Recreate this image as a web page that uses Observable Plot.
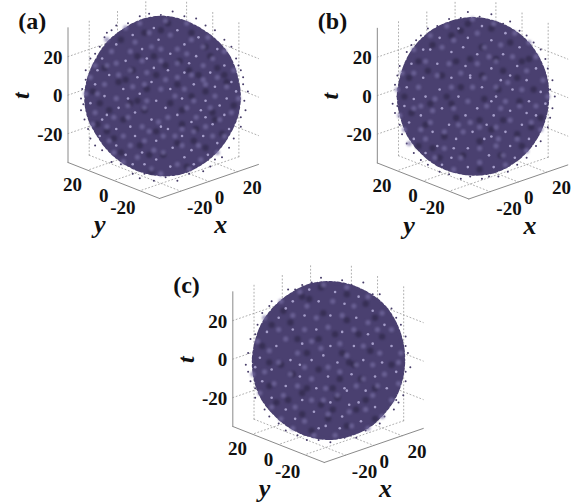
<!DOCTYPE html>
<html><head><meta charset="utf-8">
<script src="https://cdn.jsdelivr.net/npm/d3@7"></script>
<script src="https://cdn.jsdelivr.net/npm/@observablehq/plot@0.6"></script>
<style>html,body{margin:0;padding:0;background:#fff}svg{display:block}</style>
</head><body><div id="chart"></div>
<script>
// Chart values, read by eye. The cloud holds far too many dots to read one by one,
// so each ball is drawn as its read outline plus a hand-estimated set of visible specks.
const panels = ["(a)", "(b)", "(c)"];
const axisTicks = [-20, 0, 20];
const axisLimit = 35;
const angleStep = 15;
const radiiA = [32.5,32.3,32.6,32.4,32.3,32.8,33.3,33,32.3,32.2,31.8,32.1,32.5,32.5,32,32.2,32.6,33,33.4,33.5,33,32.6,32.3,32.5];
const radiiB = [31.6,31.8,32,32.4,32.6,32.8,33,32.8,32.6,32.2,31.8,31.4,31.6,31.4,31.8,32,32.4,32.6,32.8,33,32.6,32.2,31.8,31.6];
const radiiC = [31.4,31.6,32,32.6,32.6,32.8,33,33,32.4,32.2,32.2,32,32.2,32.4,32.6,32.4,32.6,32.8,33,32.6,32.4,31.8,31.6,31.4];
const centres = [[-0.3,0.1],[0.2,0],[0.6,-0.2]];

const lightA = [[-4,29],[6,28],[-13,26],[15,25],[-20,22],[-2,24],[9,22],[23,20],[-9,20],[-26,16],[3,18],[14,17],[-16,15],[26,13],[-4,12],[2,11],[20,10],[-23,9],[9,10],[-11,8],[29,6],[-29,5],[-5,6],[13,5],[22,4],[-17,3],[3,3],[-25,0],[-10,1],[8,-1],[27,-1],[18,-2],[-31,-3],[-3,-2],[1,-5],[-19,-5],[16,-6],[-12,-7],[26,-8],[6,-8],[-26,-10],[-5,-10],[12,-11],[21,-12],[-20,-14],[-14,-13],[2,-14],[28,-14],[-27,-17],[-12,-17],[8,-17],[17,-17],[-3,-19],[23,-20],[-20,-21],[4,-22],[12,-23],[-9,-24],[-16,-25],[19,-25],[9,-26],[-3,-27],[-8,-29],[3,-30],[13,-29],[-13,-29],[-24,-8],[31,2],[-7,16],[18,-9],[-15,-1],[11,14],[-28,11],[24,-4],[-1,-13]];
const midA = [[-10,31],[1,32],[10,31],[-16,29],[-6,27],[3,26],[12,24],[19,25],[-24,24],[-12,23],[-5,21],[6,20],[17,21],[26,19],[-22,19],[-14,19],[-1,20],[10,18],[21,16],[-29,13],[-20,14],[-9,15],[-1,15],[6,14],[17,13],[30,11],[-24,13],[-14,11],[-7,10],[6,8],[12,9],[23,8],[-31,8],[-19,9],[-8,5],[1,7],[17,7],[27,4],[-25,5],[-13,4],[-1,3],[9,3],[18,5],[32,-1],[-28,1],[-20,-1],[-7,-2],[5,0],[13,-2],[22,0],[-33,1],[-15,-4],[-8,-5],[10,-5],[20,-5],[29,-7],[-29,-7],[-21,-9],[-15,-9],[2,-9],[14,-9],[24,-10],[-30,-12],[-9,-13],[-2,-11],[8,-14],[18,-13],[-24,-13],[-17,-17],[-6,-15],[5,-17],[13,-15],[26,-17],[-23,-19],[-8,-19],[0,-17],[21,-17],[-14,-21],[-4,-23],[8,-21],[15,-21],[-21,-24],[0,-24],[23,-24],[-11,-26],[6,-29],[16,-27],[-17,-28],[-5,-31],[11,-31],[-1,-33]];
const darkA = [[-8,27],[2,31],[12,27],[-18,24],[-4,17],[7,15],[20,17],[-25,12],[-13,11],[15,9],[26,9],[-7,3],[6,5],[-19,6],[-30,2],[18,2],[30,-4],[-14,-3],[3,-3],[12,0],[-23,-6],[-8,-6],[21,-7],[8,-12],[-17,-10],[-3,-15],[25,-16],[-24,-15],[14,-14],[-10,-21],[6,-20],[18,-22],[-18,-24],[0,-25],[10,-30],[-5,-32],[-28,-12],[27,6],[-1,28],[18,21],[-11,17],[1,13],[11,11],[-16,7],[-3,9],[23,12],[-27,-3],[-11,-2],[8,-6],[-21,-18],[13,-19],[-6,-25],[22,-10]];
const fringeA = [[-22,28],[-27,21],[-20,30],[-6,35],[4,36],[14,33],[22,28],[29,21],[31,16],[34,8],[36,2],[35,-6],[33,-13],[30,-18],[25,-26],[17,-32],[6,-36],[-4,-36],[-13,-33],[-22,-28],[-29,-21],[-32,-14],[-35,-6],[-34.5,3],[-33,11],[-31,16],[-25,25],[-35,-1],[32,13],[20,-30],[-10,-35],[-15,31],[-1,34.5],[9,34],[18,30],[26,24],[33,11],[34.5,-2],[33,-9],[28,-22],[22,-27],[11,-33],[1,-34.5],[-8,-33],[-18,-29],[-26,-23],[-31,-18],[-33.5,-10],[-33,7],[-29,18],[-24,27],[-10,34],[-34,-3.5],[34,5]];

const lightB = [[-6,29],[4,30],[14,27],[-14,25],[-2,25],[8,24],[20,21],[-21,20],[-9,19],[2,18],[13,18],[-26,14],[-15,14],[-3,13],[8,12],[19,13],[27,12],[-21,8],[-9,8],[-1,8],[-1,9],[12,7],[23,7],[-28,4],[-14,3],[4,4],[17,3],[29,2],[-20,0],[-6,0],[10,0],[8,-2],[24,-2],[-29,-4],[-13,-5],[2,-5],[16,-6],[-22,-8],[-3,-8],[9,-8],[27,-8],[-27,-11],[-10,-12],[6,-12],[21,-12],[-17,-15],[0,-15],[14,-15],[-25,-18],[-7,-18],[8,-17],[5,-18],[24,-18],[-15,-21],[16,-21],[-2,-22],[-20,-24],[-9,-26],[7,-25],[18,-26],[-2,-30],[-13,-29],[9,-30],[-18,20],[23,-7],[31,-3],[-4,21],[16,9],[-25,-1],[-8,-22]];
const midB = [[-11,30],[0,33],[9,31],[18,27],[-18,26],[-8,24],[2,27],[12,22],[24,23],[-25,20],[-13,21],[5,21],[17,17],[27,17],[-30,10],[-20,15],[-10,14],[2,14],[10,15],[23,11],[-25,10],[-15,9],[-5,10],[5,8],[15,6],[30,7],[-32,3],[-23,4],[-9,4],[0,4],[10,4],[21,3],[-16,-1],[-2,-2],[6,-4],[14,-2],[20,-4],[32,0],[-25,-5],[-17,-6],[-8,-5],[12,-5],[27,-4],[-31,-8],[-18,-11],[-6,-12],[-1,-11],[16,-10],[25,-11],[-29,-14],[-22,-14],[-12,-15],[3,-13],[10,-13],[29,-14],[-20,-18],[-4,-15],[11,-18],[19,-18],[-27,-20],[-12,-22],[3,-22],[10,-21],[23,-23],[-16,-26],[-5,-26],[13,-25],[-8,-31],[3,-28],[14,-29],[-22,-4],[7,17]];
const darkB = [[-2,31],[8,29],[-9,26],[16,23],[-17,22],[4,21],[-23,15],[-7,15],[10,16],[24,16],[-13,9],[4,9],[19,8],[-27,8],[-5,4],[11,3],[26,3],[-18,-3],[-9,-3],[5,-1],[20,-2],[-26,-7],[-7,-9],[13,-10],[-20,-12],[3,-10],[25,-13],[-12,-17],[3,-19],[19,-16],[-23,-21],[-4,-25],[12,-25],[-14,-26],[3,-31],[29,-9],[-5,28],[21,15],[-19,11],[-1,16],[13,11],[-11,0],[-29,0],[8,-14],[-17,-22],[21,-21]];
const fringeB = [[-19,29],[-24,24],[-10,33],[-2,36],[8,35],[16,32],[23,26],[29,20],[32,12],[34,7],[35,0],[34,-5],[32,-13],[29,-19],[23,-26],[15,-32],[4,-35],[-5,-35],[-14,-32],[-22,-27],[-28,-20],[-31,-12],[-33,-7],[-32,0],[-33,5],[-31,13],[-28,19],[-34,-3],[26,23],[11,-34],[-15,30],[-5,33.5],[3,34],[13,31],[20,28],[31,16],[33,3],[33,-9],[27,-21],[19,-29],[7,-34],[-1,-34],[-10,-33],[-19,-29],[-25,-24],[-30,-16],[-32,-4],[-32,9],[-26,22],[-22,26]];

const lightC = [[-8,30],[3,29],[13,27],[-15,25],[-4,25],[7,24],[19,21],[-21,18],[-10,19],[1,19],[12,18],[24,15],[-26,12],[-15,13],[-5,13],[6,12],[17,11],[-22,6],[-11,7],[1,6],[11,6],[27,6],[-29,1],[-16,0],[-7,0],[4,-1],[15,0],[23,-1],[-24,-4],[-12,-7],[0,-7],[10,-6],[20,-7],[29,-5],[-28,-9],[-18,-11],[-5,-12],[7,-12],[8,-13],[16,-13],[25,-12],[-24,-16],[-11,-17],[1,-18],[13,-18],[-18,-21],[-6,-22],[20,-20],[6,-24],[-14,-25],[14,-26],[-4,-29],[-1,-28],[5,-29],[-12,-2],[19,7],[-2,2],[-31,-3],[-18,22],[9,-19]];
const midC = [[-12,29],[-2,32],[8,31],[17,27],[-20,25],[-9,23],[2,25],[11,23],[23,20],[-27,18],[-15,19],[-5,18],[6,19],[17,16],[27,13],[-21,13],[-10,13],[0,14],[11,13],[21,13],[-30,8],[-18,9],[-7,8],[5,7],[15,6],[31,3],[-25,4],[-13,3],[-3,5],[8,2],[22,3],[-32,-6],[-21,-1],[-10,-3],[0,-3],[12,-2],[19,-2],[30,-1],[-27,-5],[-16,-6],[-7,-8],[5,-5],[15,-8],[24,-6],[-23,-10],[-13,-11],[-1,-12],[12,-11],[21,-11],[30,-10],[-29,-14],[-19,-15],[-7,-17],[4,-15],[19,-15],[27,-17],[-24,-20],[-14,-20],[-2,-17],[9,-22],[16,-21],[-20,-25],[-10,-26],[0,-23],[23,-24],[-15,-29],[-6,-32],[3,-32],[10,-28],[17,-29]];
const darkC = [[-3,31],[8,28],[-11,27],[16,24],[-19,21],[-2,20],[8,17],[-24,15],[-13,9],[-4,9],[13,11],[23,10],[-28,6],[-9,3],[6,3],[18,4],[-20,-2],[-4,-4],[11,-2],[27,-2],[-15,-6],[5,-8],[14,-8],[-25,-11],[-9,-12],[2,-12],[20,-12],[4,-16],[-17,-17],[-3,-19],[12,-21],[-11,-23],[0,-25],[20,-25],[-7,-30],[8,-28],[-8,26],[20,18],[-16,16],[3,11],[-25,-1],[9,-1],[-11,-14],[16,-17],[-22,-18],[2,-21]];
const fringeC = [[-17,30],[-24,25],[-11,32],[-3,35],[6,34],[15,33],[22,28],[27,22],[31,15],[33,10],[34,3],[35,-3],[33,-9],[32,-15],[28,-21],[22,-27],[12,-33],[1,-35],[-9,-34],[-18,-30],[-25,-24],[-31,-16],[-33,-9],[-35,-2],[-34,3],[-33,9],[-30,15],[-28,20],[-34,-5],[30,-18],[-14,30],[-7,33],[2,33],[10,32],[19,28],[29,18],[33,6],[33,-5],[29,-17],[24,-24],[7,-33],[-4,-34],[-13,-32],[-21,-27],[-27,-21],[-31,-12],[-32,1],[-31,11],[-25,23],[16,-30]];

const radii = [radiiA, radiiB, radiiC];
const lights = [lightA, lightB, lightC];
const mids = [midA, midB, midC];
const darks = [darkA, darkB, darkC];
const fringes = [fringeA, fringeB, fringeC];

// Oblique projection of the three axes, per chart unit, plus each panel's origin.
const ux = [1.414, -0.486], uy = [-1.307, -0.514], ut = -1.925, viewScale = 2.35;
const origins = [[162.75, 95.6], [472.05, 96.1], [327.55, 359.6]];
const letterAt = [[31.7, 21], [332, 21], [186, 285]];
const project = (p, x, y, t) => [
  origins[p][0] + x * ux[0] + y * uy[0],
  origins[p][1] + x * ux[1] + y * uy[1] + t * ut
];
const L = axisLimit;

const segs = (grid) => {
  const out = [];
  let id = 0;
  const add = (p, a, b) => {
    out.push({id, at: project(p, ...a)}, {id, at: project(p, ...b)});
    id++;
  };
  panels.forEach((_, p) => {
    if (grid) {
      for (const v of axisTicks) {
        add(p, [v, L, -L], [v, L, L]);
        add(p, [L, v, -L], [L, v, L]);
        add(p, [v, L, -L], [v, -L, -L]);
        add(p, [L, v, -L], [-L, v, -L]);
        add(p, [-L, L, v], [L, L, v]);
        add(p, [L, L, v], [L, -L, v]);
      }
    } else {
      add(p, [-L, L, -L], [-L, L, L]);
      add(p, [-L, L, -L], [-L, -L, -L]);
      add(p, [-L, -L, -L], [L, -L, -L]);
    }
  });
  return out;
};

const outline = panels.flatMap((_, p) => radii[p].map((r, i) => {
  const a = i * angleStep * Math.PI / 180;
  return {p, x: origins[p][0] + (centres[p][0] + r * Math.cos(a)) * viewScale,
             y: origins[p][1] - (centres[p][1] + r * Math.sin(a)) * viewScale};
}));
const toScreen = (sets) => sets.flatMap((s, p) => s.map(([u, v]) => ({
  x: origins[p][0] + u * viewScale, y: origins[p][1] - v * viewScale
})));

const serif = "Liberation Serif";
const yOffsets = [[-17, 17], [-10, 15], [-15, 15]];
const xOffsets = [[19, 17], [10.5, 16], [15, 16]];
const tLabels = panels.flatMap((_, p) => axisTicks.map((v) => {
  const [x, y] = project(p, -L, L, v);
  return {x: x - 5.5, y: y + 1, text: String(v)};
}));
const floorLabels = panels.flatMap((_, p) => [
  ...axisTicks.map((v, i) => {
    const [x, y] = project(p, -L, v, -L);
    return {x: x + yOffsets[i][0], y: y + yOffsets[i][1], text: String(v)};
  }),
  ...axisTicks.map((v, i) => {
    const [x, y] = project(p, v, -L, -L);
    return {x: x + xOffsets[i][0], y: y + xOffsets[i][1], text: String(v)};
  })
]);
const titles = panels.flatMap((_, p) => {
  const o = origins[p];
  return [
    {x: o[0] - 63.5, y: o[1] + 129, text: "y"},
    {x: o[0] + 57.5, y: o[1] + 129, text: "x"}
  ];
});
const tTitles = panels.map((_, p) => ({x: origins[p][0] - 142, y: origins[p][1] - 0.5, text: "t"}));
const letters = panels.map((text, p) => ({x: letterAt[p][0], y: letterAt[p][1], text}));

const grid = segs(true), axes = segs(false);
const tickStyle = {text: "text", fontFamily: serif, fontWeight: "bold", fontSize: 19, fill: "#111"};
const chart = Plot.plot({
  width: 581, height: 502, margin: 0,
  x: {domain: [0, 581], range: [0, 581], axis: null},
  y: {domain: [0, 502], range: [0, 502], axis: null},
  marks: [
    Plot.line(grid, {x: d => d.at[0], y: d => d.at[1], z: "id", stroke: "#9a9a9a", strokeWidth: 0.8, strokeDasharray: "1 2.5"}),
    Plot.line(axes, {x: d => d.at[0], y: d => d.at[1], z: "id", stroke: "#8a8a8a", strokeWidth: 1}),
    Plot.dot(toScreen(fringes), {x: "x", y: "y", r: 1, fill: "#473d69", stroke: "none", imageFilter: "blur(0.3px)"}),
    Plot.line(outline, {x: "x", y: "y", z: "p", fill: "#4a4070", stroke: "#4a4070", strokeWidth: 4, strokeDasharray: "2 2.5 3.5 1.5 1.5 3", curve: "cardinal-closed"}),
    Plot.dot(toScreen(darks), {x: "x", y: "y", r: 3.2, fill: "#2c2544", fillOpacity: 0.6, stroke: "none", imageFilter: "blur(1px)"}),
    Plot.dot(toScreen(mids), {x: "x", y: "y", r: 2.6, fill: "#7a70a6", fillOpacity: 0.65, stroke: "none", imageFilter: "blur(0.8px)"}),
    Plot.dot(toScreen(lights), {x: "x", y: "y", r: 1.3, fill: "#aaa2cd", fillOpacity: 0.95, stroke: "none", imageFilter: "blur(0.4px)"}),
    Plot.text(tLabels, {...tickStyle, x: "x", y: "y", textAnchor: "end"}),
    Plot.text(floorLabels, {...tickStyle, x: "x", y: "y", textAnchor: "middle"}),
    Plot.text(titles, {x: "x", y: "y", text: "text", fontFamily: serif, fontStyle: "italic", fontWeight: "bold", fontSize: 26, fill: "#111"}),
    Plot.text(tTitles, {x: "x", y: "y", text: "text", rotate: -90, fontFamily: serif, fontStyle: "italic", fontWeight: "bold", fontSize: 24, fill: "#111"}),
    Plot.text(letters, {x: "x", y: "y", text: "text", fontFamily: serif, fontWeight: "bold", fontSize: 24, fill: "#111"})
  ]
});
document.getElementById("chart").append(chart);
</script></body></html>
